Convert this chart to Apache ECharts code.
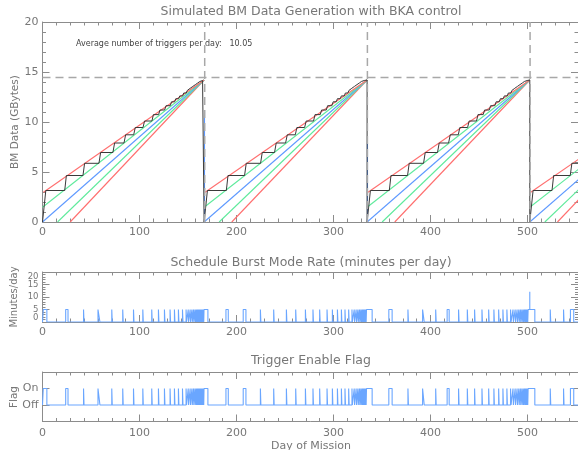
<!DOCTYPE html>
<html><head><meta charset="utf-8">
<script src="https://cdn.jsdelivr.net/npm/echarts@6/dist/echarts.min.js"></script>
<style>html,body{margin:0;padding:0;background:#fff}#c{width:578px;height:450px}</style>
</head><body><div id="c"></div>
<script>
// ---------------- data ----------------
const xMax = 552;
const xTickLabels = [0, 100, 200, 300, 400, 500];
const burstTickLabelsA = [0, 10, 20];
const burstTickLabelsB = [5, 15];
const avgTriggers = 10.05;
const cycleStarts = [0, 166.6, 334.6, 502.3];
const cycleEnds = [166.6, 334.6, 502.3, 670.3];   // last apex lies past the axis end
const apexValue = 14.2;
const thresholdValue = 14.45;
const dumpDays = [167.2, 334.9, 502.6];
// straight reference lines: start point [day offset from cycle start, GB]
const redUpperStart = [1.0, 2.97];
const greenUpperStart = [0, 1.47];
const blueStart = [0, 0];
const greenLowerStart = [15.5, 0];
const redLowerStart = [28.5, 0];
const blueDropTop = [11.2, 7.9, null];
// black simulated data line: trigger day offsets, rise widths, levels after each rise
const stepRiseDays = [0, 22.9, 41.7, 58.2, 72.6, 84.0, 94.0, 103.6, 112.8, 119.7, 125.9, 131.7, 136.2, 140.3, 144.5, 148.2, 151.2, 154.0, 156.6, 159.0, 161.2, 163.2, 165.0];
const stepRiseWidth = [3.4, 1.7, 1.7, 1.7, 1.7, 1.7, 1.6, 1.6, 1.5, 1.4, 1.4, 1.3, 1.2, 1.2, 1.1, 1.0, 1.0, 1.0, 1.0, 1.0, 0.9, 0.9, 0.8];
const stepLevels = [3.15, 4.65, 5.87, 6.95, 7.9, 8.72, 9.45, 10.1, 10.74, 11.2, 11.63, 12.02, 12.33, 12.61, 12.9, 13.15, 13.37, 13.56, 13.74, 13.9, 14.05, 14.15, 14.2];
// burst-mode intervals [start day, end day]
const burstsCycle1 = [[0.8,4.5],[23.9,26.3],[42.3,42.8],[57.2,59.2],[71.4,71.9],[82.7,83.2],[93.8,94.3],[103.4,103.9],[112.6,113.1],[119.5,120],[125.7,126.2],[131.5,132],[136,136.5],[140.1,140.6],[144.3,144.8],[148,148.5],[150.2,150.6],[152.2,152.6],[154,154.4],[155.6,156],[157.1,157.5],[158.4,158.8],[159.6,160],[160.7,161.1],[161.7,162.1],[162.6,163],[163.5,163.9],[164.3,164.7],[165.1,165.5],[165.8,166.2],[166.5,170.5]];
const burstsCycle2 = [[189.1,191.5],[206.9,209.7],[224.6,225.1],[238.3,238.8],[251.4,251.9],[261,261.5],[271,271.5],[278.8,279.3],[285.7,286.2],[293.3,293.8],[298.8,299.3],[304,304.5],[308.1,308.6],[311.8,312.3],[315.6,316.1],[319,319.4],[321.3,321.7],[323.3,323.7],[325.1,325.5],[326.7,327.1],[328.1,328.5],[329.4,329.8],[330.5,330.9],[331.5,331.9],[332.4,332.8],[333.2,333.6],[334,339.8]];
const burstsCycle3 = [[357,360.4],[376.7,377.2],[391.8,393.5],[405.3,405.8],[417.1,419.2],[428.9,429.4],[437.9,438.4],[445.4,445.9],[453,453.5],[459.9,460.4],[465.3,465.8],[470.2,470.7],[474.6,475.1],[478.7,479.2],[482.5,483],[485,485.4],[487.2,487.6],[489.2,489.6],[491,491.4],[492.6,493],[494.1,494.5],[495.5,495.9],[496.8,497.2],[497.9,498.3],[498.9,499.3],[499.8,500.2],[500.6,507.5]];
const burstsCycle4 = [[523.4,523.9],[537.1,537.6],[544.2,547.6]];
const burstRate = 5;
const spikeDay = 502.3;
const spikeRate = 12.1;
const flagOn = 1, flagOff = 0;

// ---------------- styling ----------------
const FONT = 'DejaVu Sans';
const axisColor = '#8c8c8c';
const textColor = '#777';
const cRed = '#ff6e6e', cGreen = '#5fea9c', cBlue = '#5e99ff', cBurst = '#6aa6ff';

const chart = echarts.init(document.getElementById('c'), null, {renderer: 'canvas'});

function xAx(grid, pos, showLabel, margin) {
  return {
    type: 'value', gridIndex: grid, position: pos, min: 0, max: xMax, interval: 100,
    axisLine: {show: true, onZero: false, lineStyle: {color: axisColor, width: 1}},
    axisTick: {show: true, inside: true, length: 7, lineStyle: {color: axisColor}},
    minorTick: {show: true, splitNumber: 7, length: 3.5, lineStyle: {color: axisColor}},
    splitLine: {show: false}, minorSplitLine: {show: false},
    axisLabel: {show: showLabel, color: textColor, fontSize: 11, fontFamily: FONT, margin: margin || 5, showMaxLabel: false,
      formatter: v => xTickLabels.indexOf(v) >= 0 ? String(v) : ''}
  };
}
function yAx(grid, pos, showLabel, o) {
  return Object.assign({
    type: 'value', gridIndex: grid, position: pos,
    axisLine: {show: true, onZero: false, lineStyle: {color: axisColor, width: 1}},
    axisTick: {show: true, inside: true, length: 7, lineStyle: {color: axisColor}},
    splitLine: {show: false}, minorSplitLine: {show: false},
    axisLabel: {show: showLabel, color: textColor, fontSize: 11, fontFamily: FONT, margin: 4}
  }, o);
}

const xAxes = [
  xAx(0, 'bottom', true), xAx(0, 'top', false),
  xAx(1, 'bottom', true), xAx(1, 'top', false),
  xAx(2, 'bottom', true, 6), xAx(2, 'top', false)
];
const topY = {min: 0, max: 20, interval: 5, minorTick: {show: true, splitNumber: 5, length: 3.5, lineStyle: {color: axisColor}}};
const burstY = {min: 0, max: 20, interval: 5, minorTick: {show: true, splitNumber: 5, length: 3, lineStyle: {color: axisColor}}};
const flagY = {min: -1, max: 2, interval: 1};
const burstLabel = {show: true, color: textColor, fontSize: 8.5, fontFamily: FONT, margin: 4, showMinLabel: true, showMaxLabel: true};
const yAxes = [
  yAx(0, 'left', true, topY), yAx(0, 'right', false, topY),
  yAx(1, 'left', true, Object.assign({}, burstY, {axisLabel: Object.assign({}, burstLabel, {customValues: burstTickLabelsA,
     verticalAlignMinLabel: 'bottom', verticalAlignMaxLabel: 'top'})})),
  yAx(1, 'right', false, burstY),
  yAx(2, 'left', true, Object.assign({}, flagY, {axisLabel: {show: true, color: textColor, fontSize: 11, fontFamily: FONT, margin: 4,
     formatter: v => v === flagOn ? 'On' : (v === flagOff ? 'Off' : '')}})),
  yAx(2, 'right', false, flagY),
  // second label layer for the burst panel (5 and 15)
  yAx(1, 'left', true, {min: 0, max: 20, interval: 5, axisLine: {show: false}, axisTick: {show: false},
     axisLabel: Object.assign({}, burstLabel, {customValues: burstTickLabelsB})})
];

const series = [];
function lineSeries(data, color, opts) {
  return Object.assign({type: 'line', xAxisIndex: 0, yAxisIndex: 0, data: data, showSymbol: false, symbol: 'none',
    animation: false, silent: true, lineStyle: {color: color, width: 1.1}, z: 2}, opts || {});
}
// straight reference lines for each cycle
const refLines = [[redLowerStart, cRed], [greenLowerStart, cGreen], [blueStart, cBlue], [greenUpperStart, cGreen], [redUpperStart, cRed]];
cycleStarts.forEach((s, k) => {
  const E = cycleEnds[k];
  refLines.forEach(([st, col]) => {
    series.push(lineSeries([[s + st[0], st[1]], [E, apexValue]], col));
  });
  if (blueDropTop[k] != null) {
    series.push(lineSeries([[E + 0.4, blueDropTop[k]], [E + 0.4, 0]], cBlue));
  }
});
// black simulated data line
const blackPts = [];
cycleStarts.forEach((s, k) => {
  const E = cycleEnds[k];
  let prev = 0;
  blackPts.push([s, 0]);
  stepRiseDays.forEach((d, i) => {
    if (i > 0) blackPts.push([s + d, prev]);
    blackPts.push([s + d + stepRiseWidth[i], stepLevels[i]]);
    prev = stepLevels[i];
  });
  blackPts.push([E, apexValue]);
  blackPts.push([E, 0]);
});
series.push(lineSeries(blackPts, '#3a3a3a', {z: 3, lineStyle: {color: '#3a3a3a', width: 1}}));
// dashed limit lines
series.push(lineSeries([[0, thresholdValue], [xMax, thresholdValue]], '#a8a8a8', {z: 4, lineStyle: {color: '#a8a8a8', width: 1.5, type: [8, 5]}}));
dumpDays.forEach(d => {
  series.push(lineSeries([[d, 0], [d, 20]], '#a8a8a8', {z: 4, lineStyle: {color: '#a8a8a8', width: 1.5, type: [8, 5]}}));
});

// burst panel + flag panel
const allBursts = [].concat(burstsCycle1, burstsCycle2, burstsCycle3, burstsCycle4);
function stepPath(high, low) {
  const pts = [[0, low]];
  allBursts.forEach(([a, b]) => { pts.push([a, low], [a, high], [b, high], [b, low]); });
  pts.push([xMax, low]);
  return pts;
}
series.push(lineSeries(stepPath(burstRate, 0), cBurst, {xAxisIndex: 2, yAxisIndex: 2}));
series.push(lineSeries([[spikeDay, burstRate], [spikeDay, spikeRate]], cBurst, {xAxisIndex: 2, yAxisIndex: 2}));
series.push(lineSeries(stepPath(flagOn, flagOff), cBurst, {xAxisIndex: 4, yAxisIndex: 4}));

function txt(text, x, y, size, o) {
  return Object.assign({type: 'text', x: x, y: y, silent: true,
    style: {text: text, fontSize: size, fontFamily: FONT, fill: textColor, align: 'center', verticalAlign: 'middle'}}, o || {});
}

chart.setOption({
  animation: false,
  backgroundColor: '#fff',
  grid: [
    {left: 42.5, right: 0, top: 22, height: 200},
    {left: 42.5, right: 0, top: 272, height: 50},
    {left: 42.5, right: 0, top: 372, height: 49.5}
  ],
  xAxis: xAxes,
  yAxis: yAxes,
  series: series,
  graphic: [
    txt('Simulated BM Data Generation with BKA control', 311, 12, 12.5),
    txt('Schedule Burst Mode Rate (minutes per day)', 311, 262.5, 12.5),
    txt('Trigger Enable Flag', 311, 361, 12.5),
    txt('Day of Mission', 311, 446, 11),
    txt('BM Data (GBytes)', 15, 122, 10.5, {rotation: Math.PI / 2}),
    txt('Minutes/day', 14, 297, 10, {rotation: Math.PI / 2}),
    txt('Flag', 14, 397, 10.5, {rotation: Math.PI / 2}),
    {type: 'text', x: 76, y: 44, silent: true,
     style: {text: 'Average number of triggers per day:   ' + avgTriggers.toFixed(2), fontSize: 8, fontFamily: FONT, fill: '#444', align: 'left', verticalAlign: 'middle'}}
  ]
});
</script></body></html>
